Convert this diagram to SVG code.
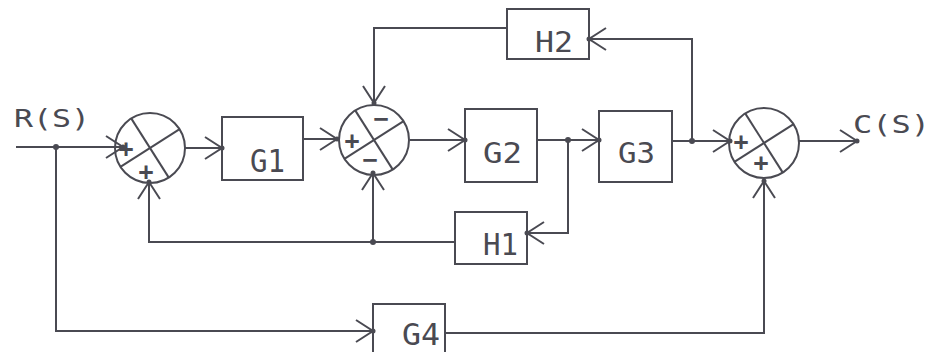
<svg xmlns="http://www.w3.org/2000/svg" width="932" height="352" viewBox="0 0 932 352">
<style>
.ln{fill:none;stroke:#4a4a52;stroke-width:2;stroke-linejoin:miter}
.bx{fill:none;stroke:#4a4a52;stroke-width:2}
.lb{font-family:"DejaVu Sans Mono","Liberation Mono",monospace;fill:#4a4a52}
.sg{font-family:"DejaVu Sans Mono","Liberation Mono",monospace;fill:#4a4a52;font-size:25px;font-weight:bold;text-anchor:middle}
.dot{fill:#4a4a52}
</style>
<defs>
<marker id="arr" viewBox="-20 -13 23 26" refX="0" refY="0" markerWidth="23" markerHeight="26" markerUnits="userSpaceOnUse" orient="auto" overflow="visible">
<path d="M-17,-11 L0,0 L-17,11" fill="none" stroke="#4a4a52" stroke-width="2"/>
<circle r="2.5" fill="#4a4a52"/>
</marker>
<g id="sumshape">
<circle r="35" fill="none" stroke="#4a4a52" stroke-width="2"/>
<line x1="-18.8" y1="-29.6" x2="18.8" y2="29.6" stroke="#4a4a52" stroke-width="2"/>
<line x1="29.6" y1="-18.8" x2="-29.6" y2="18.8" stroke="#4a4a52" stroke-width="2"/>
</g>
</defs>
<rect width="932" height="352" fill="#ffffff"/>

<g id="connectors">
<path class="ln" d="M16,147 H123" marker-end="url(#arr)"/>
<path class="ln" d="M185,148 H222" marker-end="url(#arr)"/>
<path class="ln" d="M303,139 H337" marker-end="url(#arr)"/>
<path class="ln" d="M410,140 H465" marker-end="url(#arr)"/>
<path class="ln" d="M537,140 H599" marker-end="url(#arr)"/>
<path class="ln" d="M672,141 H730" marker-end="url(#arr)"/>
<path class="ln" d="M799,141 H857" marker-end="url(#arr)"/>
<path class="ln" d="M692,141 V39 H589" marker-end="url(#arr)"/>
<path class="ln" d="M507,28 H374 V103" marker-end="url(#arr)"/>
<path class="ln" d="M568,140 V233 H527" marker-end="url(#arr)"/>
<path class="ln" d="M455,242 H149 V182" marker-end="url(#arr)"/>
<path class="ln" d="M373,242 V173" marker-end="url(#arr)"/>
<path class="ln" d="M56,147 V331 H373" marker-end="url(#arr)"/>
<path class="ln" d="M445,333 H764 V181" marker-end="url(#arr)"/>
<circle class="dot" cx="56" cy="147" r="3"/>
<circle class="dot" cx="568" cy="140" r="3"/>
<circle class="dot" cx="692" cy="141" r="3"/>
<circle class="dot" cx="373" cy="242" r="3"/>
</g>

<g id="sum1">
<use href="#sumshape" x="150" y="148"/>
<text class="sg" x="126" y="157">+</text>
<text class="sg" x="146" y="180">+</text>
</g>
<g id="sum2">
<use href="#sumshape" x="374" y="140"/>
<text class="sg" x="352" y="149">+</text>
<text class="sg" x="381" y="127">−</text>
<text class="sg" x="370" y="168">−</text>
</g>
<g id="sum3">
<use href="#sumshape" x="764" y="143"/>
<text class="sg" x="741" y="150">+</text>
<text class="sg" x="761" y="171">+</text>
</g>

<g id="G1">
<rect class="bx" x="222" y="117" width="81" height="63"/>
<text class="lb" x="250" y="172" font-size="32" textLength="35" lengthAdjust="spacingAndGlyphs">G1</text>
</g>
<g id="G2">
<rect class="bx" x="465" y="109" width="72" height="73"/>
<text class="lb" x="483" y="163" font-size="29" textLength="39" lengthAdjust="spacingAndGlyphs">G2</text>
</g>
<g id="G3">
<rect class="bx" x="599" y="111" width="73" height="71"/>
<text class="lb" x="618" y="163" font-size="29" textLength="37" lengthAdjust="spacingAndGlyphs">G3</text>
</g>
<g id="H2">
<rect class="bx" x="507" y="9" width="82" height="50"/>
<text class="lb" x="535" y="52" font-size="28" textLength="38" lengthAdjust="spacingAndGlyphs">H2</text>
</g>
<g id="H1">
<rect class="bx" x="455" y="212" width="72" height="52"/>
<text class="lb" x="483" y="255" font-size="30" textLength="35" lengthAdjust="spacingAndGlyphs">H1</text>
</g>
<g id="G4">
<rect class="bx" x="373" y="304" width="72" height="52"/>
<text class="lb" x="402" y="345" font-size="31" textLength="38" lengthAdjust="spacingAndGlyphs">G4</text>
</g>
<g id="input">
<text class="lb" x="14" y="127" font-size="24" textLength="76" lengthAdjust="spacingAndGlyphs">R(S)</text>
</g>
<g id="output">
<text class="lb" x="853" y="133" font-size="25" textLength="77" lengthAdjust="spacingAndGlyphs">C(S)</text>
</g>
</svg>
